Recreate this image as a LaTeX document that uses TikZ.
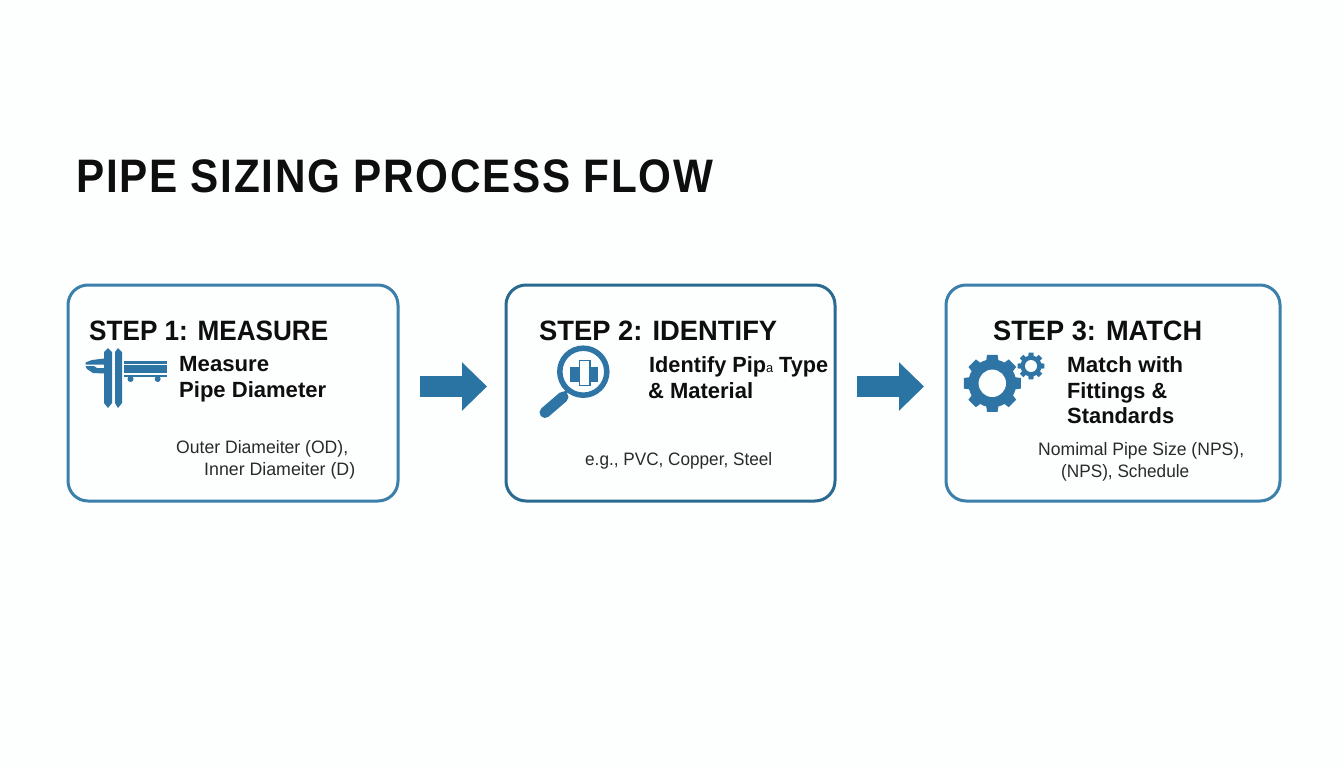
\documentclass[tikz,border=0pt]{standalone}
\usepackage{graphicx}
\usepackage{fontspec}
\setmainfont{Liberation Sans}
\usetikzlibrary{arrows.meta,calc}
\definecolor{pagebg}{HTML}{FDFEFE}
\definecolor{boxa}{HTML}{3B80AA}
\definecolor{boxb}{HTML}{2A6A90}
\definecolor{iconblue}{HTML}{2E75A6}
\definecolor{flowblue}{HTML}{2A74A4}
\definecolor{inkdark}{HTML}{0E0E0E}
\definecolor{inksoft}{HTML}{2A2A2A}
\newcommand{\fitw}[2]{\setbox0=\hbox{#2}\pgfmathsetmacro{\fitr}{#1/\the\wd0}\scalebox{\fitr}[1]{#2}}
\newcommand{\fs}[1]{\fontsize{#1}{#1}\selectfont}
\newcommand{\geardraw}[5]{% cx cy Rout Rbody Rhole
  \fill[iconblue] (#1,#2) circle (#4);
  \foreach \ga in {0,45,...,315}{
    \fill[iconblue] ($(#1,#2)+(\ga-15:#4-0.5)$) -- ($(#1,#2)+(\ga-10.5:#3)$) -- ($(#1,#2)+(\ga+10.5:#3)$) -- ($(#1,#2)+(\ga+15:#4-0.5)$) -- cycle;
  }
  \fill[pagebg] (#1,#2) circle (#5);
}
\tikzset{
  stepbox/.style={draw=boxa,line width=3pt,rounded corners=20pt,minimum width=330pt,minimum height=216pt,inner sep=0pt,outer sep=0pt},
  headtxt/.style={anchor=base west,inner sep=0pt,text=inkdark,font=\bfseries\fs{28}},
  subtxt/.style={anchor=base west,inner sep=0pt,text=inkdark,font=\bfseries\fs{22}},
  notetxt/.style={anchor=base west,inner sep=0pt,text=inksoft,font=\fs{18}},
  flowarrow/.style={draw=flowblue,line width=21pt,-{Triangle[length=25pt,width=47pt,color=flowblue]}},
  iconfill/.style={fill=iconblue,draw=none},
}
\begin{document}
\begin{tikzpicture}[x=1pt,y=-1pt]
\useasboundingbox (0,0) rectangle (1344,768);
\fill[pagebg] (0,0) rectangle (1344,768);

\node[anchor=base west,inner sep=0pt,text=inkdark,font=\bfseries\fs{47}\addfontfeature{LetterSpace=4}] (title) at (76,192) {\fitw{637}{PIPE SIZING PROCESS FLOW}};

\node[stepbox] (box1) at (233,393) {};
\node[stepbox,draw=boxb,minimum width=329pt] (box2) at (670.5,393) {};
\node[stepbox,minimum width=334pt] (box3) at (1113,393) {};

\draw[flowarrow,shorten <=22pt,shorten >=19pt] ([yshift=6.5pt]box1.east) -- ([yshift=6.5pt]box2.west);
\draw[flowarrow,shorten <=22pt,shorten >=22pt] ([yshift=6.5pt]box2.east) -- ([yshift=6.5pt]box3.west);

% Step 1
\node[headtxt] (h1) at (89,340) {\fitw{239}{STEP 1: MEASURE}};
\node[subtxt] (s1a) at (179,371) {\fitw{90}{Measure}};
\node[subtxt] (s1b) at (179,397) {\fitw{147}{Pipe Diameter}};
\node[notetxt] (n1a) at (176,453) {\fitw{172}{Outer Diameiter (OD),}};
\node[notetxt] (n1b) at (204,475) {\fitw{151}{Inner Diameiter (D)}};
% caliper
\fill[iconfill] (104,352) -- (108,348) -- (112,352) -- (112,403) -- (108,408) -- (104,403) -- cycle;
\fill[iconfill] (115,352) -- (118,348) -- (122,352) -- (122,403) -- (118,408) -- (115,403) -- cycle;
\fill[iconfill] (85.5,362.5) -- (92,360) -- (104,358.5) -- (104,364.5) -- (85.5,364.5) -- cycle;
\fill[iconfill] (85.5,366) -- (94,366) -- (97,368) -- (104,368) -- (104,373.5) -- (93,373) -- (87,369) -- cycle;
\fill[iconfill] (124,360.5) rectangle (167.3,363.5);
\fill[iconfill] (124,365.3) rectangle (167.3,373);
\fill[iconfill] (124,374.8) rectangle (167.3,377);
\fill[iconfill] (130.5,379) circle (3);
\fill[iconfill] (157.7,379) circle (3);

% Step 2
\node[headtxt] (h2) at (539,340) {\fitw{238}{STEP 2: IDENTIFY}};
\node[subtxt] (s2a) at (649,372.5) {\fitw{179}{Identify Pip{\fs{13}\mdseries a} Type}};
\node[subtxt] (s2b) at (648,398) {\fitw{105}{\& Material}};
\node[notetxt] (n2) at (585,465) {\fitw{187}{e.g., PVC, Copper, Steel}};
% magnifier
\draw[iconblue,line width=3pt] (567,391) -- (558,399);
\draw[iconblue,line width=11pt,line cap=round] (563,397) -- (545,412.5);
\draw[iconblue,line width=5.5pt] (583.3,371.7) circle (23.5);
\fill[iconfill] (570,366.7) rectangle (598.3,381.7);
\draw[iconblue,fill=pagebg,line width=1.2pt] (579.5,360.5) rectangle (590,385.5);

% Step 3
\node[headtxt] (h3) at (993,340) {\fitw{209}{STEP 3: MATCH}};
\node[subtxt] (s3a) at (1067,372.5) {\fitw{116}{Match with}};
\node[subtxt] (s3b) at (1067,398) {\fitw{100}{Fittings \&}};
\node[subtxt] (s3c) at (1067,423) {\fitw{107}{Standards}};
\node[notetxt] (n3a) at (1038,455) {\fitw{206}{Nomimal Pipe Size (NPS),}};
\node[notetxt] (n3b) at (1061,477) {\fitw{128}{(NPS), Schedule}};
% gears
\geardraw{992.3}{383.3}{29}{24}{13.7}
\geardraw{1031}{366}{13.5}{10.5}{6}
\end{tikzpicture}
\end{document}
